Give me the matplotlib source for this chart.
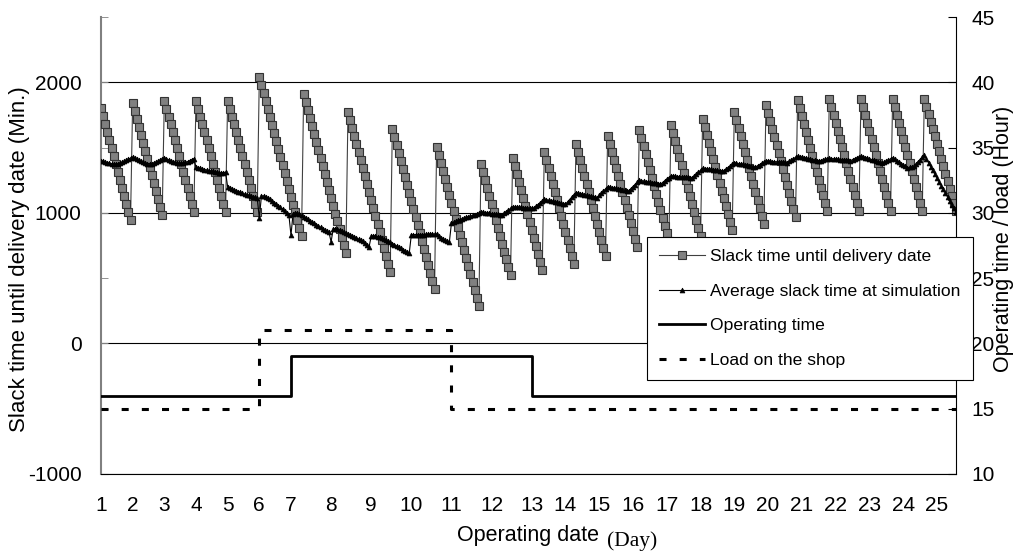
import numpy as np
import matplotlib
matplotlib.use('Agg')
import matplotlib.pyplot as plt
from matplotlib.ticker import MultipleLocator

plt.rcParams['font.family'] = ['Liberation Sans', 'DejaVu Sans']
plt.rcParams['axes.unicode_minus'] = False

# slack time until delivery date (min), one value per simulated hour, one list per order tooth
slack_teeth = [
    [1800, 1739, 1678, 1617, 1556, 1495, 1434, 1373, 1312, 1251, 1190, 1129, 1068, 1007, 946],
    [1840, 1779, 1718, 1657, 1596, 1535, 1474, 1413, 1352, 1291, 1230, 1169, 1108, 1047, 986],
    [1860, 1799, 1738, 1677, 1616, 1555, 1494, 1433, 1372, 1311, 1250, 1189, 1128, 1067, 1006],
    [1860, 1799, 1738, 1677, 1616, 1555, 1494, 1433, 1372, 1311, 1250, 1189, 1128, 1067, 1006],
    [1860, 1799, 1738, 1677, 1616, 1555, 1494, 1433, 1372, 1311, 1250, 1189, 1128, 1067, 1006],
    [2040, 1979, 1918, 1857, 1796, 1735, 1674, 1613, 1552, 1491, 1430, 1369, 1308, 1247, 1186, 1125, 1064, 1003, 942, 881, 820],
    [1910, 1849, 1788, 1727, 1666, 1605, 1544, 1483, 1422, 1361, 1300, 1239, 1178, 1117, 1056, 995, 934, 873, 812, 751, 690],
    [1770, 1709, 1648, 1587, 1526, 1465, 1404, 1343, 1282, 1221, 1160, 1099, 1038, 977, 916, 855, 794, 733, 672, 611, 550],
    [1640, 1579, 1518, 1457, 1396, 1335, 1274, 1213, 1152, 1091, 1030, 969, 908, 847, 786, 725, 664, 603, 542, 481, 420],
    [1505, 1444, 1383, 1322, 1261, 1200, 1139, 1078, 1017, 956, 895, 834, 773, 712, 651, 590, 529, 468, 407, 346, 285],
    [1375, 1314, 1253, 1192, 1131, 1070, 1009, 948, 887, 826, 765, 704, 643, 582, 521],
    [1420, 1359, 1298, 1237, 1176, 1115, 1054, 993, 932, 871, 810, 749, 688, 627, 566],
    [1465, 1404, 1343, 1282, 1221, 1160, 1099, 1038, 977, 916, 855, 794, 733, 672, 611],
    [1525, 1464, 1403, 1342, 1281, 1220, 1159, 1098, 1037, 976, 915, 854, 793, 732, 671],
    [1590, 1529, 1468, 1407, 1346, 1285, 1224, 1163, 1102, 1041, 980, 919, 858, 797, 736],
    [1635, 1574, 1513, 1452, 1391, 1330, 1269, 1208, 1147, 1086, 1025, 964, 903, 842, 781],
    [1675, 1614, 1553, 1492, 1431, 1370, 1309, 1248, 1187, 1126, 1065, 1004, 943, 882, 821],
    [1720, 1659, 1598, 1537, 1476, 1415, 1354, 1293, 1232, 1171, 1110, 1049, 988, 927, 866],
    [1770, 1709, 1648, 1587, 1526, 1465, 1404, 1343, 1282, 1221, 1160, 1099, 1038, 977, 916],
    [1825, 1764, 1703, 1642, 1581, 1520, 1459, 1398, 1337, 1276, 1215, 1154, 1093, 1032, 971],
    [1865, 1804, 1743, 1682, 1621, 1560, 1499, 1438, 1377, 1316, 1255, 1194, 1133, 1072, 1011],
    [1870, 1809, 1748, 1687, 1626, 1565, 1504, 1443, 1382, 1321, 1260, 1199, 1138, 1077, 1016],
    [1870, 1809, 1748, 1687, 1626, 1565, 1504, 1443, 1382, 1321, 1260, 1199, 1138, 1077, 1016],
    [1870, 1809, 1748, 1687, 1626, 1565, 1504, 1443, 1382, 1321, 1260, 1199, 1138, 1077, 1016],
    [1870, 1813, 1756, 1699, 1642, 1585, 1528, 1471, 1414, 1357, 1300, 1243, 1186, 1129, 1072, 1015],
]

# average slack time at simulation (min), same hours, split in pieces
avg_segments = [
    [1400, 1395, 1390, 1385, 1380, 1377, 1375, 1375, 1377, 1382, 1388, 1395, 1403, 1412, 1420],
    [1427, 1420, 1411, 1402, 1394, 1387, 1382, 1378, 1376, 1378, 1382, 1388, 1396, 1405, 1414],
    [1422, 1415, 1407, 1399, 1392, 1386, 1382, 1380, 1380, 1382, 1386, 1392, 1399, 1407, 1415],
    [1350, 1345, 1340, 1336, 1332, 1328, 1324, 1320, 1317, 1314, 1311, 1308, 1306, 1308, 1312],
    [1200, 1192, 1184, 1177, 1170, 1163, 1156, 1150, 1144, 1138, 1133, 1128, 1123, 1118, 1115],
    [960, 1128, 1130, 1124, 1114, 1103, 1091, 1079, 1067, 1055, 1043, 1030, 1016, 1002, 985],
    [830, 995, 1000, 998, 990, 980, 970, 960, 950, 940, 930, 920, 910, 900, 890, 880, 870, 860, 850],
    [779, 875, 880, 878, 870, 862, 855, 847, 840, 832, 824, 816, 808, 800, 792, 783, 770, 755, 740],
    [820, 824, 822, 818, 812, 805, 798, 790, 782, 774, 765, 756, 747, 738, 728, 718, 708, 698, 689],
    [830, 832, 834, 833, 832, 833, 834, 835, 836, 836, 837, 838, 835, 823, 811, 800, 790, 781, 773],
    [920, 928, 935, 942, 948, 954, 960, 965, 970, 975, 980, 985, 990, 998],
    [1005, 1003, 1001, 999, 997, 995, 993, 991, 989, 987, 985, 997, 1009, 1022, 1034],
    [1046, 1045, 1044, 1043, 1042, 1040, 1039, 1038, 1037, 1036, 1035, 1049, 1063, 1076, 1090],
    [1104, 1100, 1096, 1093, 1089, 1085, 1081, 1077, 1074, 1070, 1066, 1084, 1102, 1119, 1137],
    [1155, 1151, 1147, 1144, 1140, 1136, 1132, 1128, 1125, 1121, 1117, 1134, 1150, 1167, 1183],
    [1200, 1197, 1194, 1190, 1187, 1184, 1181, 1178, 1174, 1171, 1168, 1184, 1200, 1217, 1233],
    [1249, 1246, 1243, 1240, 1237, 1234, 1231, 1228, 1225, 1222, 1219, 1232, 1244, 1257, 1269],
    [1282, 1281, 1279, 1278, 1277, 1276, 1274, 1273, 1272, 1270, 1269, 1283, 1298, 1312, 1327],
    [1341, 1339, 1337, 1335, 1333, 1331, 1328, 1326, 1324, 1322, 1320, 1333, 1346, 1358, 1371],
    [1384, 1381, 1377, 1374, 1371, 1368, 1364, 1361, 1358, 1354, 1351, 1360, 1369, 1379, 1388],
    [1397, 1396, 1395, 1393, 1392, 1391, 1390, 1389, 1387, 1386, 1385, 1395, 1405, 1415, 1425],
    [1435, 1431, 1427, 1424, 1420, 1416, 1412, 1408, 1405, 1401, 1397, 1401, 1405, 1409, 1413],
    [1417, 1415, 1414, 1412, 1410, 1408, 1407, 1405, 1403, 1402, 1400, 1407, 1414, 1421, 1428],
    [1435, 1430, 1424, 1419, 1414, 1408, 1403, 1398, 1392, 1387, 1382, 1390, 1398, 1406, 1414],
    [1422, 1411, 1400, 1389, 1378, 1368, 1357, 1346, 1348, 1352, 1356, 1373, 1391, 1408, 1426],
    [1443, 1414, 1385, 1355, 1326, 1297, 1268, 1239, 1209, 1180, 1151, 1122, 1093, 1063, 1034, 1005],
]

# operating days: length of each day in hours (days 1..24), and hours per day
day_len = [15] * 6 + [19] * 6 + [16] * 12
days = list(range(1, 26))
operating = [16] * 6 + [19] * 6 + [16] * 13
load = [15] * 5 + [21] * 5 + [15] * 15

slack = np.concatenate(slack_teeth)
avg = np.concatenate(avg_segments)
hours = np.arange(len(slack))
day_start = np.concatenate([[0], np.cumsum(day_len)])

fig = plt.figure(figsize=(10.22, 5.56), dpi=100)
ax = fig.add_axes([0.0988, 0.1475, 0.8366, 0.8219])
ax2 = ax.twinx()

l1, = ax.plot(hours, slack, color='#404040', lw=0.8, marker='s', ms=5.5,
              mfc='#808080', mec='#333333', mew=0.8, zorder=3,
              label='Slack time until delivery date')
l2, = ax.plot(hours, avg, color='black', lw=0.8, marker='^', ms=3.5,
              mfc='black', mec='black', mew=0.5, zorder=4,
              label='Average slack time at simulation')

xs = np.append(day_start, hours[-1])
l3, = ax2.plot(xs, operating + [operating[-1]], drawstyle='steps-post',
               color='black', lw=2, label='Operating time')
l4, = ax2.plot(xs, load + [load[-1]], drawstyle='steps-post',
               color='black', lw=2.2, dashes=(2.3, 4.3), label='Load on the shop')

ax.set_xlim(0, hours[-1])
ax.set_ylim(-1000, 2500)
ax2.set_ylim(10, 45)

ax.set_xticks(day_start)
ax.set_xticklabels(days)
ax.tick_params(axis='x', length=0, pad=16, labelsize=15)
ax.set_yticks([-1000, 0, 1000, 2000])
ax.yaxis.set_minor_locator(MultipleLocator(500))
ax.tick_params(axis='y', which='both', direction='in', length=5,
               color='#808080', labelsize=15, pad=14)
ax.grid(axis='y', which='major', color='black', lw=0.8)
ax2.set_yticks(range(10, 50, 5))
ax2.tick_params(axis='y', direction='in', length=6, labelsize=15, pad=11)

ax.spines['top'].set_visible(False)
ax.spines['right'].set_visible(False)
ax.spines['left'].set_color('#808080')
ax.spines['left'].set_linewidth(1.5)
for s in ['top', 'left', 'bottom']:
    ax2.spines[s].set_visible(False)

ax.set_ylabel('Slack time until delivery date (Min.)', fontsize=16)
ax.yaxis.set_label_coords(-0.083, 0.47)
ax2.set_ylabel('Operating time / load (Hour)', fontsize=15.5)
ax2.yaxis.set_label_coords(1.043, 0.515)

fig.text(457 / 1022, 1 - 536 / 556, 'Operating date', ha='left', va='center', fontsize=15.5)
fig.text(607 / 1022, 1 - 541 / 556, '(Day)', ha='left', va='center', fontsize=15.5,
         family=['Liberation Serif', 'DejaVu Serif'])

leg = fig.legend([l1, l2, l3, l4], [l.get_label() for l in [l1, l2, l3, l4]],
                 loc='upper left', bbox_to_anchor=(0.633, 0.574), fontsize=12.6,
                 frameon=True, fancybox=False, edgecolor='black', framealpha=1,
                 handlelength=2.6, borderpad=0.7, handletextpad=0.3,
                 labelspacing=1.1, numpoints=1, borderaxespad=0)
leg.get_frame().set_linewidth(0.8)

fig.savefig('out.png', dpi=100)
